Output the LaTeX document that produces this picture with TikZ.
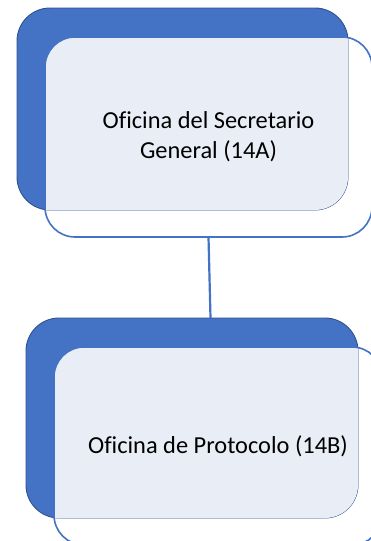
\documentclass[tikz,border=0pt]{standalone}
\usepackage{fontspec}
\setmainfont{Carlito}[Ligatures=NoCommon]
\definecolor{accent}{HTML}{4472C4}
\definecolor{darkline}{HTML}{2F528F}
\definecolor{lightfill}{HTML}{E9EDF5}
\begin{document}
\begin{tikzpicture}[x=1pt,y=-1pt,
  darkbox/.style={draw=darkline, line width=0.9pt, fill=accent, rounded corners=33pt,
    inner sep=0pt, outer sep=0pt},
  outlinebox/.style={draw=accent, line width=1.6pt, rounded corners=30pt,
    inner sep=0pt, outer sep=0pt, align=center,
    font=\fontsize{24.4pt}{29.8pt}\selectfont},
  conn/.style={draw=accent, line width=2.2pt}]
\useasboundingbox (0,0) rectangle (371,541);
% top unit
\node[darkbox, minimum width=331pt, minimum height=202pt] (d1) at (182.5,109) {};
\begin{scope}
  \clip[rounded corners=33pt] (d1.north west) rectangle (d1.south east);
  \fill[lightfill, rounded corners=30pt] (45,37) rectangle (372,237);
\end{scope}
\node[outlinebox, minimum width=327pt, minimum height=200pt] (o1) at (208.5,137)
  {Oficina del Secretario\\General (14A)};
% bottom unit
\node[darkbox, minimum width=332pt, minimum height=200pt] (d2) at (192,418) {};
\begin{scope}
  \clip[rounded corners=33pt] (d2.north west) rectangle (d2.south east);
  \fill[lightfill, rounded corners=30pt] (54,347) rectangle (382,545);
\end{scope}
\node[outlinebox, minimum width=328pt, minimum height=198pt] (o2) at (218,446)
  {Oficina de Protocolo (14B)};
% connector
\draw[conn] (o1.south) -- ([xshift=2pt]o1.south |- d2.north);
\end{tikzpicture}
\end{document}
